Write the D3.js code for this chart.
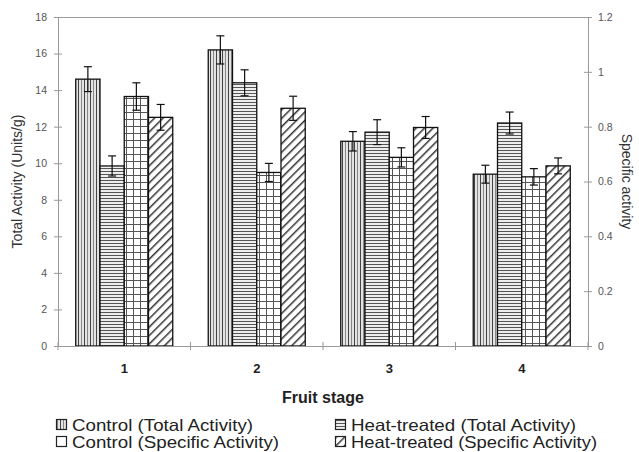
<!DOCTYPE html>
<html><head><meta charset="utf-8">
<script src="https://cdn.jsdelivr.net/npm/d3@7"></script>
<style>
html,body{margin:0;padding:0;background:#fff;}
svg{display:block;font-family:Arial,"Liberation Sans",sans-serif;}
</style></head>
<body>
<svg id="chart" width="639" height="452"></svg>
<script>
const categories = ["1", "2", "3", "4"];
const controlTotal = [14.6, 16.2, 11.2, 9.4];
const controlTotalErr = [0.68, 0.77, 0.53, 0.49];
const heatTotal = [9.85, 14.4, 11.7, 12.2];
const heatTotalErr = [0.55, 0.71, 0.68, 0.6];
const controlSpecific = [0.91, 0.633, 0.688, 0.617];
const controlSpecificErr = [0.05, 0.033, 0.035, 0.03];
const heatSpecific = [0.834, 0.867, 0.797, 0.657];
const heatSpecificErr = [0.047, 0.044, 0.04, 0.029];
const leftTicks = [0, 2, 4, 6, 8, 10, 12, 14, 16, 18];
const rightTicks = [0, 0.2, 0.4, 0.6, 0.8, 1, 1.2];
const seriesNames = ["Control (Total Activity)", "Heat-treated (Total Activity)", "Control (Specific Activity)", "Heat-treated (Specific Activity)"];

const svg = d3.select("#chart");
const L = 58, R = 588, T = 17, B = 346;

const defs = svg.append("defs");
const p1 = defs.append("pattern").attr("id","pv").attr("patternUnits","userSpaceOnUse").attr("width",6).attr("height",6);
p1.append("rect").attr("width",6).attr("height",6).attr("fill","#e4e4e4");
p1.append("line").attr("x1",0.5).attr("x2",0.5).attr("y1",0).attr("y2",6).attr("stroke","#444").attr("stroke-width",1);
p1.append("line").attr("x1",3.5).attr("x2",3.5).attr("y1",0).attr("y2",6).attr("stroke","#888").attr("stroke-width",1);
const p2 = defs.append("pattern").attr("id","ph").attr("patternUnits","userSpaceOnUse").attr("width",6).attr("height",3);
p2.append("rect").attr("width",6).attr("height",3).attr("fill","#eee");
p2.append("line").attr("x1",0).attr("x2",6).attr("y1",0.5).attr("y2",0.5).attr("stroke","#555").attr("stroke-width",1);
const p3 = defs.append("pattern").attr("id","pg").attr("patternUnits","userSpaceOnUse").attr("width",7).attr("height",7);
p3.append("rect").attr("width",7).attr("height",7).attr("fill","#fff");
p3.append("line").attr("x1",0).attr("x2",7).attr("y1",0.5).attr("y2",0.5).attr("stroke","#555").attr("stroke-width",1);
p3.append("line").attr("x1",0.5).attr("x2",0.5).attr("y1",0).attr("y2",7).attr("stroke","#555").attr("stroke-width",1);
const p4 = defs.append("pattern").attr("id","pd").attr("patternUnits","userSpaceOnUse").attr("width",6).attr("height",6).attr("patternTransform","rotate(45)");
p4.append("rect").attr("width",6).attr("height",6).attr("fill","#fff");
p4.append("line").attr("x1",0).attr("x2",0).attr("y1",0).attr("y2",6).attr("stroke","#333").attr("stroke-width",3);

const fills = ["url(#pv)","url(#ph)","url(#pg)","url(#pd)"];

const x0 = d3.scaleBand().domain(categories).range([L, R]).padding(0);
const x1 = d3.scaleBand().domain(d3.range(4)).range([0, x0.bandwidth()]).paddingInner(0).paddingOuter(0.732);
const yL = d3.scaleLinear().domain([0, 18]).range([B, T]);
const yR = d3.scaleLinear().domain([0, 1.2]).range([B, T]);

svg.append("line").attr("x1",L).attr("x2",R).attr("y1",T+0.5).attr("y2",T+0.5).attr("stroke","#999").attr("stroke-width",1);

const series = [
  {vals: controlTotal, err: controlTotalErr, y: yL},
  {vals: heatTotal, err: heatTotalErr, y: yL},
  {vals: controlSpecific, err: controlSpecificErr, y: yR},
  {vals: heatSpecific, err: heatSpecificErr, y: yR}
];

const data = [];
categories.forEach((c, ci) => series.forEach((s, si) => data.push({c, si, v: s.vals[ci], e: s.err[ci], y: s.y})));

svg.append("g").selectAll("rect").data(data).join("rect")
  .attr("x", d => x0(d.c) + x1(d.si))
  .attr("width", x1.bandwidth())
  .attr("y", d => d.y(d.v))
  .attr("height", d => B - d.y(d.v))
  .attr("fill", d => fills[d.si])
  .attr("stroke", "#111").attr("stroke-width", 1.3);

const eg = svg.append("g").attr("stroke","#111").attr("stroke-width",1.2);
data.forEach(d => {
  const cx = x0(d.c) + x1(d.si) + x1.bandwidth()/2;
  const yt = d.y(d.v + d.e), yb = d.y(d.v - d.e);
  eg.append("line").attr("x1",cx).attr("x2",cx).attr("y1",yt).attr("y2",yb);
  eg.append("line").attr("x1",cx-4).attr("x2",cx+4).attr("y1",yt).attr("y2",yt);
  eg.append("line").attr("x1",cx-4).attr("x2",cx+4).attr("y1",yb).attr("y2",yb);
});

function styleAxis(g) {
  g.select(".domain").attr("stroke","#999");
  g.selectAll(".tick line").attr("stroke","#999");
  g.selectAll(".tick text").attr("fill","#555").style("font-size","10.5px").style("font-family","Arial, 'Liberation Sans', sans-serif");
}
const gl = svg.append("g").attr("transform",`translate(${L},0)`)
  .call(d3.axisLeft(yL).tickValues(leftTicks).tickSize(4).tickSizeOuter(0).tickPadding(7).tickFormat(d3.format("d")));
gl.selectAll(".tick line").attr("x1",4);
styleAxis(gl);
const gr = svg.append("g").attr("transform",`translate(${R},0)`)
  .call(d3.axisRight(yR).tickValues(rightTicks).tickSize(4).tickSizeOuter(0).tickPadding(6).tickFormat(d => String(+d.toFixed(1))));
gr.selectAll(".tick line").attr("x1",-4);
styleAxis(gr);

const gx = svg.append("g").attr("transform",`translate(0,${B})`);
gx.append("line").attr("x1",L).attr("x2",R).attr("y1",0.5).attr("y2",0.5).attr("stroke","#999");
const bounds = categories.map(c => x0(c)).concat([R]);
gx.selectAll(".bt").data(bounds).join("line").attr("class","bt")
  .attr("x1",d=>d).attr("x2",d=>d).attr("y1",-4).attr("y2",4).attr("stroke","#999");
gx.selectAll(".lab").data(categories).join("text").attr("class","lab")
  .attr("x", d => x0(d) + x0.bandwidth()/2).attr("y", 27)
  .attr("text-anchor","middle").attr("font-weight","bold").attr("font-size","13px").attr("fill","#222").text(d => d);

svg.append("text").attr("x",323).attr("y",403).attr("text-anchor","middle")
  .attr("font-weight","bold").attr("font-size","16px").attr("fill","#222").text("Fruit stage");

svg.append("text").attr("transform","translate(22,181.5) rotate(-90)").attr("text-anchor","middle")
  .attr("font-size","14px").attr("fill","#333").text("Total Activity (Units/g)");
svg.append("text").attr("transform","translate(622,181.5) rotate(90)").attr("text-anchor","middle")
  .attr("font-size","14px").attr("fill","#333").text("Specific activity");

const legPos = [
  {x: 56, y: 431, w: 181},
  {x: 335, y: 431, w: 225},
  {x: 56, y: 448, w: 207},
  {x: 335, y: 448, w: 246}
];
const lg = svg.append("g");
seriesNames.forEach((n, i) => {
  const p = legPos[i];
  lg.append("rect").attr("x",p.x+0.5).attr("y",p.y-11.5).attr("width",10).attr("height",10)
    .attr("fill", i === 2 ? "#fff" : fills[i]).attr("stroke","#222").attr("stroke-width",1.2);
  lg.append("text").attr("x",p.x+16).attr("y",p.y).attr("font-size","16.5px").attr("fill","#222")
    .attr("textLength",p.w).attr("lengthAdjust","spacingAndGlyphs").text(n);
});
</script>
</body></html>
